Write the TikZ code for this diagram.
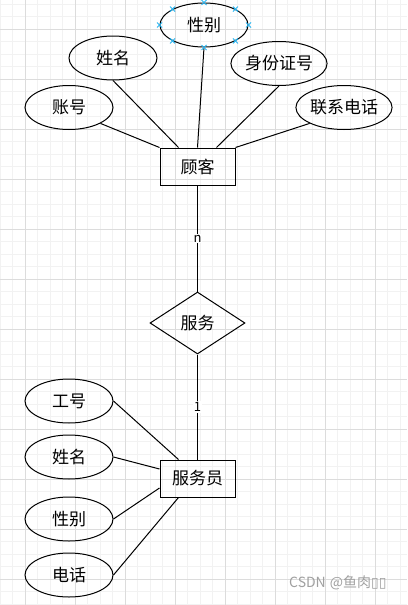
\documentclass[tikz,border=0pt]{standalone}
\usepackage{fontspec}
\setmainfont{Noto Sans CJK SC}
\newfontfamily\boxfont{DejaVu Sans}
\usetikzlibrary{shapes.geometric,calc}
\definecolor{mg}{HTML}{F2F2F2}
\definecolor{Mg}{HTML}{DCDCDC}
\definecolor{hand}{HTML}{29B6F2}
\definecolor{wm}{HTML}{A0A0A0}
\begin{document}
\begin{tikzpicture}[x=1pt,y=-1pt,
  attr/.style={ellipse,draw,line width=1pt,minimum width=88pt,minimum height=44pt,inner sep=0pt,font=\fontsize{17}{17}\selectfont},
  ent/.style={rectangle,draw,line width=1pt,minimum width=75pt,minimum height=37pt,inner sep=0pt,font=\fontsize{17}{17}\selectfont},
  rel/.style={diamond,draw,line width=1pt,minimum width=95pt,minimum height=62pt,inner sep=0pt,shape aspect=1.5,font=\fontsize{17}{17}\selectfont},
  conn/.style={line width=1pt},
  lab/.style={fill=white,inner sep=1pt,font=\fontsize{13}{13}\selectfont},
  handle/.style={hand,line width=0.9pt}]
\useasboundingbox (0,0) rectangle (407,605);
\fill[white] (0,0) rectangle (407,605);
% grid
\foreach \i in {0,...,32} \draw[mg,line width=0.8pt] (\i*12.5,0) -- (\i*12.5,605);
\foreach \j in {0,...,48} \draw[mg,line width=0.8pt] (0,4+\j*12.5) -- (407,4+\j*12.5);
\foreach \i in {0,...,7} \draw[Mg,line width=0.8pt] (25+\i*50,0) -- (25+\i*50,605);
\foreach \j in {0,...,11} \draw[Mg,line width=0.8pt] (0,29+\j*50) -- (407,29+\j*50);
% nodes
\node[attr] (xb) at (204,25) {性别};
\node[attr] (xm) at (113,58) {姓名};
\node[attr] (sf) at (279,63.5) {身份证号};
\node[attr] (zh) at (69,107.5) {账号};
\node[attr] (lx) at (344,107.5) {联系电话};
\node[ent] (gk) at (197.5,166.5) {顾客};
\node[rel] (fw) at (197.5,323) {服务};
\node[ent] (fwy) at (197.5,478.5) {服务员};
\node[attr] (gh) at (69,401) {工号};
\node[attr] (xm2) at (69,457) {姓名};
\node[attr] (xb2) at (69,519) {性别};
\node[attr] (dh) at (69,575) {电话};
% connectors
\draw[conn] (zh.south east) -- (gk.north west);
\draw[conn] (xm.south) -- ($(gk.north west)!0.25!(gk.north east)$);
\draw[conn] (xb.south) -- ($(gk.north west)!0.5!(gk.north east)$);
\draw[conn] (sf.south) -- ($(gk.north west)!0.75!(gk.north east)$);
\draw[conn] (lx.south west) -- (gk.north east);
\draw[conn] (gk) -- node[lab] (ln) {n} (fw);
\draw[conn] (fw) -- node[lab] (l1) {1} (fwy);
\draw[conn] (gh.east) -- ($(fwy.north west)!0.25!(fwy.north east)$);
\draw[conn] (xm2.east) -- ($(fwy.north west)!0.25!(fwy.south west)$);
\draw[conn] (xb2.east) -- ($(fwy.north west)!0.75!(fwy.south west)$);
\draw[conn] (dh.east) -- ($(fwy.south west)!0.25!(fwy.south east)$);
% selection handles
\foreach \a in {north,north east,east,south east,south,south west,west,north west}{
  \draw[handle] ($(xb.\a)+(-2.5,-2.5)$) -- ($(xb.\a)+(2.5,2.5)$);
  \draw[handle] ($(xb.\a)+(-2.5,2.5)$) -- ($(xb.\a)+(2.5,-2.5)$);
}
% watermark
\node[anchor=west,text=wm,inner sep=0pt,font=\fontsize{14}{14}\selectfont] (wmk) at (289,583) {CSDN\hspace{4pt}@鱼肉{\boxfont ▯▯}};
\end{tikzpicture}
\end{document}
